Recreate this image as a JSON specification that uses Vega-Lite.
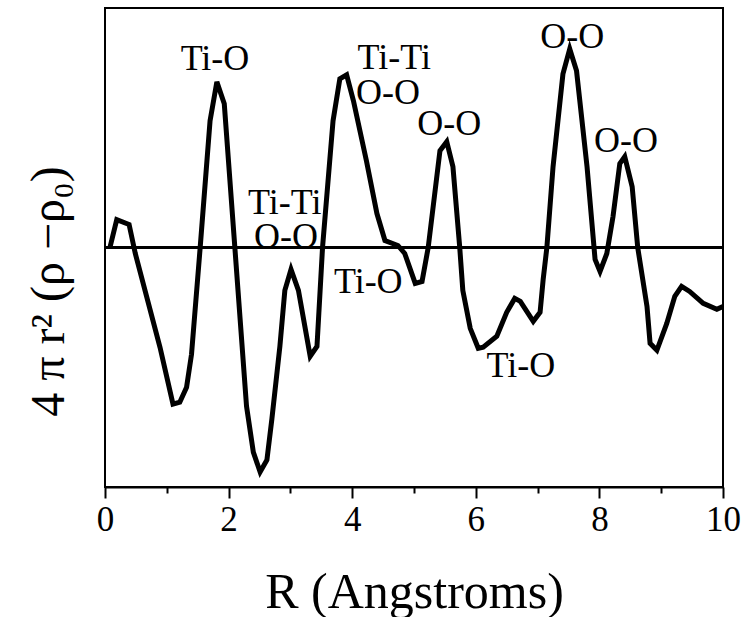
{
  "$schema": "https://vega.github.io/schema/vega-lite/v6.json",
  "autosize": {"type": "none"},
  "padding": {"left": 105, "top": 8, "right": 22, "bottom": 130},
  "width": 618,
  "height": 479,
  "background": "white",
  "config": {
    "view": {"stroke": "black", "strokeWidth": 2},
    "font": "Liberation Serif"
  },
  "datasets": {
    "curve": [
      {"r": 0.08, "g": 0}, {"r": 0.19, "g": 0.28}, {"r": 0.39, "g": 0.23}, {"r": 0.49, "g": -0.06},
      {"r": 0.89, "g": -1.0}, {"r": 1.10, "g": -1.57}, {"r": 1.21, "g": -1.55}, {"r": 1.32, "g": -1.40},
      {"r": 1.40, "g": -1.07}, {"r": 1.54, "g": 0}, {"r": 1.70, "g": 1.27}, {"r": 1.81, "g": 1.66},
      {"r": 1.93, "g": 1.44}, {"r": 2.29, "g": -1.59}, {"r": 2.40, "g": -2.05}, {"r": 2.51, "g": -2.25},
      {"r": 2.62, "g": -2.13}, {"r": 2.70, "g": -1.72}, {"r": 2.83, "g": -0.99}, {"r": 2.91, "g": -0.43},
      {"r": 3.01, "g": -0.22}, {"r": 3.13, "g": -0.43}, {"r": 3.32, "g": -1.09}, {"r": 3.43, "g": -0.99},
      {"r": 3.52, "g": 0}, {"r": 3.69, "g": 1.27}, {"r": 3.80, "g": 1.69}, {"r": 3.91, "g": 1.73},
      {"r": 4.02, "g": 1.47}, {"r": 4.23, "g": 0.87}, {"r": 4.40, "g": 0.34}, {"r": 4.53, "g": 0.07},
      {"r": 4.74, "g": 0.02}, {"r": 4.85, "g": -0.06}, {"r": 5.02, "g": -0.36}, {"r": 5.13, "g": -0.34},
      {"r": 5.23, "g": 0.0}, {"r": 5.42, "g": 0.97}, {"r": 5.53, "g": 1.06}, {"r": 5.63, "g": 0.81},
      {"r": 5.74, "g": 0}, {"r": 5.79, "g": -0.43}, {"r": 5.91, "g": -0.81}, {"r": 6.04, "g": -1.01},
      {"r": 6.12, "g": -1.0}, {"r": 6.34, "g": -0.89}, {"r": 6.50, "g": -0.65}, {"r": 6.63, "g": -0.51},
      {"r": 6.72, "g": -0.54}, {"r": 6.93, "g": -0.74}, {"r": 7.04, "g": -0.65}, {"r": 7.09, "g": -0.32},
      {"r": 7.15, "g": 0}, {"r": 7.25, "g": 0.81}, {"r": 7.41, "g": 1.74}, {"r": 7.52, "g": 1.99},
      {"r": 7.63, "g": 1.77}, {"r": 7.80, "g": 0.81}, {"r": 7.93, "g": -0.12}, {"r": 8.01, "g": -0.24},
      {"r": 8.12, "g": -0.06}, {"r": 8.22, "g": 0.31}, {"r": 8.33, "g": 0.84}, {"r": 8.41, "g": 0.91},
      {"r": 8.53, "g": 0.61}, {"r": 8.62, "g": 0}, {"r": 8.77, "g": -0.59}, {"r": 8.82, "g": -0.96},
      {"r": 8.93, "g": -1.03}, {"r": 9.09, "g": -0.76}, {"r": 9.22, "g": -0.49}, {"r": 9.33, "g": -0.39},
      {"r": 9.46, "g": -0.44}, {"r": 9.68, "g": -0.56}, {"r": 9.90, "g": -0.62}, {"r": 10.0, "g": -0.59}
    ],
    "labels": [
      {"r": 1.78, "g": 1.775, "label": "Ti-O"},
      {"r": 2.91, "g": 0.335, "label": "Ti-Ti"},
      {"r": 2.93, "g": 0.0, "label": "O-O"},
      {"r": 4.68, "g": 1.785, "label": "Ti-Ti"},
      {"r": 4.58, "g": 1.44, "label": "O-O"},
      {"r": 5.57, "g": 1.125, "label": "O-O"},
      {"r": 7.56, "g": 2.0, "label": "O-O"},
      {"r": 8.43, "g": 0.955, "label": "O-O"},
      {"r": 4.26, "g": -0.455, "label": "Ti-O"},
      {"r": 6.73, "g": -1.295, "label": "Ti-O"}
    ]
  },
  "encoding": {
    "x": {
      "field": "r", "type": "quantitative",
      "scale": {"domain": [0, 10], "nice": false, "zero": false},
      "axis": {
        "title": "R (Angstroms)",
        "titleFont": "Liberation Serif", "titleFontSize": 50, "titleFontWeight": "normal",
        "titleColor": "black", "titleBaseline": "alphabetic", "titleY": 120,
        "values": [0, 1, 2, 3, 4, 5, 6, 7, 8, 9, 10],
        "labelExpr": "datum.value % 2 === 0 ? datum.label : ''",
        "labelFont": "Liberation Serif", "labelFontSize": 35, "labelColor": "black",
        "labelPadding": 4, "labelFlush": false, "labelOverlap": false,
        "tickColor": "black", "tickWidth": 2,
        "tickSize": {"condition": {"test": "datum.value % 2 === 0", "value": 11}, "value": 6},
        "domainColor": "black", "domainWidth": 2, "grid": false
      }
    },
    "y": {
      "field": "g", "type": "quantitative",
      "scale": {"domain": [-2.4, 2.4], "nice": false, "zero": false},
      "axis": {
        "title": "4 π r² (ρ −ρ₀)",
        "titleFont": "Liberation Serif", "titleFontSize": 48, "titleFontWeight": "normal",
        "titleColor": "black", "titleBaseline": "alphabetic", "titleX": -42, "titleY": 283,
        "titleAngle": -90, "titleAlign": "center",
        "labels": false, "ticks": false, "domain": false, "grid": false
      }
    }
  },
  "layer": [
    {
      "data": {"name": "curve"},
      "mark": {"type": "rule", "color": "black", "strokeWidth": 2},
      "encoding": {"y": {"datum": 0}, "x": null}
    },
    {
      "data": {"name": "curve"},
      "mark": {"type": "line", "color": "black", "strokeWidth": 5, "strokeJoin": "miter", "clip": true}
    },
    {
      "data": {"name": "labels"},
      "mark": {"type": "text", "font": "Liberation Serif", "fontSize": 36, "align": "center", "baseline": "alphabetic", "color": "black"},
      "encoding": {"text": {"field": "label"}}
    }
  ]
}
